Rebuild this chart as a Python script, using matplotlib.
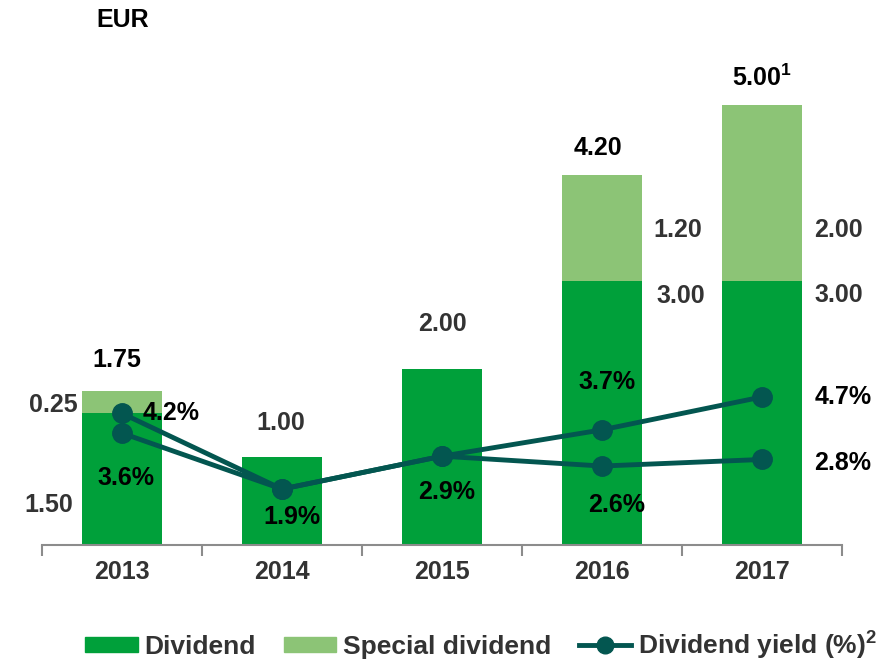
import numpy as np
import matplotlib
matplotlib.use("Agg")
import matplotlib.pyplot as plt
from matplotlib.patches import Patch
from matplotlib.lines import Line2D

plt.rcParams['font.family'] = ['Liberation Sans', 'DejaVu Sans']
plt.rcParams['font.weight'] = 'bold'
plt.rcParams['mathtext.fontset'] = 'custom'
plt.rcParams['mathtext.bf'] = 'Liberation Sans:bold'
plt.rcParams['mathtext.rm'] = 'Liberation Sans:bold'

years = ['2013', '2014', '2015', '2016', '2017']
dividend = [1.50, 1.00, 2.00, 3.00, 3.00]
special = [0.25, 0.0, 0.0, 1.20, 2.00]
yield_a = [4.2, 1.9, 2.9, 3.7, 4.7]
yield_b = [3.6, 1.9, 2.9, 2.6, 2.8]

c_div = '#00a03a'
c_spec = '#8cc476'
c_line = '#035650'
c_grey = '#333333'

fig = plt.figure(figsize=(8.94, 6.61), dpi=100)
ax = fig.add_axes([42/894, 1-545/661, 800/894, 495/661])
x = np.arange(len(years))
ax.bar(x, dividend, width=0.5, color=c_div, zorder=2)
ax.bar(x, special, width=0.5, bottom=dividend, color=c_spec, zorder=2)
ax.set_xlim(-0.5, 4.5)
ax.set_ylim(0, 495/88)

for s in ['top', 'right', 'left']:
    ax.spines[s].set_visible(False)
ax.spines['bottom'].set_color('#8c8c8c')
ax.spines['bottom'].set_linewidth(1.5)
ax.set_yticks([])
ax.set_xticks(np.arange(-0.5, 4.6, 1))
ax.set_xticklabels([])
ax.tick_params(axis='x', length=8, width=1.5, color='#8c8c8c')

fs = 18
for i, y in enumerate(years):
    ax.text(i, -0.31, y, ha='center', va='center', fontsize=fs, color=c_grey)

ax2 = ax.twinx()
ax2.set_ylim(0.2, 0.2 + 495/32.9)
ax2.axis('off')
ax2.plot(x, yield_b, color=c_line, lw=3.5, marker='o', ms=14, zorder=3)
ax2.plot(x, yield_a, color=c_line, lw=3.5, marker='o', ms=14, zorder=3)

tot = [d + s for d, s in zip(dividend, special)]
kw = dict(ha='center', va='center', fontsize=fs)
# totals
ax.text(-0.03, tot[0] + 0.35, '%.2f' % tot[0], color='black', **kw)
ax.text(0.99, tot[1] + 0.39, '%.2f' % tot[1], color=c_grey, **kw)
ax.text(2.0, tot[2] + 0.51, '%.2f' % tot[2], color=c_grey, **kw)
ax.text(2.975, tot[3] + 0.31, '%.2f' % tot[3], color='black', **kw)
ax.text(4.0, tot[4] + 0.31, '%.2f$^{\\mathbf{1}}$' % tot[4], color='black', **kw)
# segments
ax.text(-0.43, 1.59, '%.2f' % special[0], color=c_grey, **kw)
ax.text(-0.46, 0.45, '%.2f' % dividend[0], color=c_grey, **kw)
ax.text(3.475, 3.58, '%.2f' % special[3], color=c_grey, **kw)
ax.text(3.49, 2.83, '%.2f' % dividend[3], color=c_grey, **kw)
ax.text(4.48, 3.58, '%.2f' % special[4], color=c_grey, **kw)
ax.text(4.48, 2.84, '%.2f' % dividend[4], color=c_grey, **kw)

# yield labels
ax2.text(0.306, yield_a[0] + 0.01, '%.1f%%' % yield_a[0], color='black', **kw)
ax2.text(0.025, yield_b[0] - 1.36, '%.1f%%' % yield_b[0], color='black', **kw)
ax2.text(1.06, yield_a[1] - 0.85, '%.1f%%' % yield_a[1], color='black', **kw)
ax2.text(2.03, yield_a[2] - 1.09, '%.1f%%' % yield_a[2], color='black', **kw)
ax2.text(3.03, yield_a[3] + 1.45, '%.1f%%' % yield_a[3], color='black', **kw)
ax2.text(3.09, yield_b[3] - 1.18, '%.1f%%' % yield_b[3], color='black', **kw)
ax2.text(4.506, yield_a[4], '%.1f%%' % yield_a[4], color='black', **kw)
ax2.text(4.506, yield_b[4] - 0.11, '%.1f%%' % yield_b[4], color='black', **kw)

fig.text(123/894, 1-20/661, 'EUR', ha='center', va='center', fontsize=fs, color='black')

handles = [Patch(color=c_div), Patch(color=c_spec),
           Line2D([], [], color=c_line, lw=3.5, marker='o', ms=12)]
labels = ['Dividend', 'Special dividend', 'Dividend yield (%)$^{\\mathbf{2}}$']
leg = fig.legend(handles, labels, loc='center', bbox_to_anchor=(481/894, 1-645/661),
                 ncol=3, frameon=False, fontsize=19, handlelength=2.0,
                 handleheight=0.53, handletextpad=0.24, columnspacing=1.05,
                 borderpad=0, borderaxespad=0)
for t in leg.get_texts():
    t.set_color(c_grey)

fig.savefig('out.png', dpi=100)
